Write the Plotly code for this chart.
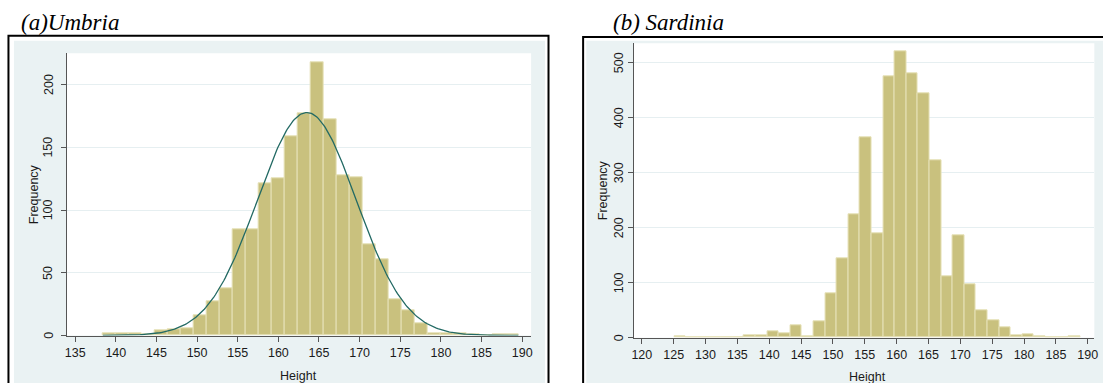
import numpy as np
import plotly.graph_objects as go

W, H = 1103, 383

# ---------------- data ----------------
umbria_bin_start = 138.4
umbria_bin_width = 1.598
umbria_freq = [2, 2, 2, 1, 4, 5, 6, 16, 27, 38, 85, 85, 121, 125, 159, 177,
               218, 172, 128, 126, 73, 61, 29, 20, 10, 2, 2, 2, 1, 0, 1, 1]
umbria_normal_mean = 163.5
umbria_normal_sd = 6.1

sardinia_bin_start = 125.1
sardinia_bin_width = 1.821
sardinia_freq = [2, 0, 1, 1, 1, 0, 5, 5, 11, 8, 22, 2, 29, 80, 144, 224, 364,
                 189, 475, 521, 481, 444, 323, 111, 186, 97, 50, 31, 18, 5, 7,
                 3, 1, 1, 3]

umbria_xticks = list(range(135, 191, 5))
umbria_yticks = [0, 50, 100, 150, 200]
sardinia_xticks = list(range(120, 191, 5))
sardinia_yticks = [0, 100, 200, 300, 400, 500]

titles = ["<i>(a)Umbria</i>", "<i>(b) Sardinia</i>"]

# ---------------- helpers ----------------
def fx(x):
    return x / W


def fy(y):
    return 1 - y / H


BAR_FILL = "#C9C17E"
BAR_LINE = "#E6E1B8"
CURVE = "#236A64"
BG_BLUE = "#EAF2F3"
GRID = "#E6EFF1"
TXT = "#1a1a1a"
TICKFONT = dict(family="Liberation Sans, Arial", size=12.5, color=TXT)

fig = go.Figure()

# Umbria histogram
u_edges = umbria_bin_start + umbria_bin_width * np.arange(len(umbria_freq) + 1)
u_centers = (u_edges[:-1] + u_edges[1:]) / 2
fig.add_trace(go.Bar(x=u_centers, y=umbria_freq, width=umbria_bin_width,
                     marker=dict(color=BAR_FILL, line=dict(color=BAR_LINE, width=1)),
                     xaxis="x", yaxis="y", showlegend=False))

# normal density overlay (scaled to frequency)
n_u = sum(umbria_freq)
xs = np.linspace(u_edges[0], u_edges[-1], 300)
ys = n_u * umbria_bin_width / (umbria_normal_sd * np.sqrt(2 * np.pi)) * \
    np.exp(-0.5 * ((xs - umbria_normal_mean) / umbria_normal_sd) ** 2)
fig.add_trace(go.Scatter(x=xs, y=ys, mode="lines",
                         line=dict(color=CURVE, width=1.3),
                         xaxis="x", yaxis="y", showlegend=False))

# Sardinia histogram
s_edges = sardinia_bin_start + sardinia_bin_width * np.arange(len(sardinia_freq) + 1)
s_centers = (s_edges[:-1] + s_edges[1:]) / 2
fig.add_trace(go.Bar(x=s_centers, y=sardinia_freq, width=sardinia_bin_width,
                     marker=dict(color=BAR_FILL, line=dict(color=BAR_LINE, width=1)),
                     xaxis="x2", yaxis="y2", showlegend=False))

# ---------------- panel geometry (px) ----------------
L = dict(x0=65, x1=532, y0=53.3, y1=335.5)
R = dict(x0=635, x1=1098.3, y0=43.3, y1=337.7)

axis_common = dict(showline=True, linecolor="#555", linewidth=1,
                   ticks="outside", ticklen=5, tickwidth=1, tickcolor="#555",
                   tickfont=TICKFONT, zeroline=False, fixedrange=True)

fig.update_layout(
    width=W, height=H, margin=dict(l=0, r=0, t=0, b=0),
    paper_bgcolor="white", plot_bgcolor="rgba(0,0,0,0)",
    bargap=0, showlegend=False,
    xaxis=dict(domain=[fx(L["x0"]), fx(L["x1"])], range=[133.95, 191.1],
               tickvals=umbria_xticks, showgrid=False, anchor="y", **axis_common),
    yaxis=dict(domain=[fy(L["y1"]), fy(L["y0"])], range=[0, 225],
               tickvals=umbria_yticks, showticklabels=False, showgrid=True,
               gridcolor=GRID, gridwidth=1, anchor="x", **axis_common),
    xaxis2=dict(domain=[fx(R["x0"]), fx(R["x1"])], range=[118.7, 191.03],
                tickvals=sardinia_xticks, showgrid=False, anchor="y2", **axis_common),
    yaxis2=dict(domain=[fy(R["y1"]), fy(R["y0"])], range=[0, 535],
                tickvals=sardinia_yticks, showticklabels=False, showgrid=True,
                gridcolor=GRID, gridwidth=1, anchor="x2", **axis_common),
)

shapes = []
# light blue graph regions
shapes.append(dict(type="rect", xref="paper", yref="paper", layer="below",
                   x0=fx(12), x1=fx(546), y0=fy(40.7), y1=fy(400),
                   fillcolor=BG_BLUE, line=dict(width=0)))
shapes.append(dict(type="rect", xref="paper", yref="paper", layer="below",
                   x0=fx(587.5), x1=fx(1120), y0=fy(40.7), y1=fy(400),
                   fillcolor=BG_BLUE, line=dict(width=0)))
# white plot regions
for P in (L, R):
    shapes.append(dict(type="rect", xref="paper", yref="paper", layer="below",
                       x0=fx(P["x0"]), x1=fx(P["x1"]), y0=fy(P["y1"]), y1=fy(P["y0"]),
                       fillcolor="white", line=dict(width=0)))
# black frames
shapes.append(dict(type="rect", xref="paper", yref="paper", layer="above",
                   x0=fx(6.5), x1=fx(549.5), y0=fy(35.7), y1=fy(410),
                   fillcolor="rgba(0,0,0,0)", line=dict(color="black", width=2)))
shapes.append(dict(type="rect", xref="paper", yref="paper", layer="above",
                   x0=fx(584.3), x1=fx(1130), y0=fy(37), y1=fy(410),
                   fillcolor="rgba(0,0,0,0)", line=dict(color="black", width=2)))
fig.update_layout(shapes=shapes)

ann = []
title_font = dict(family="Liberation Serif, Times New Roman", size=23, color="black")
ann.append(dict(text=titles[0], x=fx(17), y=fy(23), xref="paper", yref="paper",
                xanchor="left", yanchor="middle", showarrow=False, font=title_font))
ann.append(dict(text=titles[1], x=fx(612), y=fy(23), xref="paper", yref="paper",
                xanchor="left", yanchor="middle", showarrow=False, font=title_font))

# rotated y tick labels (placed on the axis scale)
for v in umbria_yticks:
    ann.append(dict(text=str(v), textangle=-90, x=fx(46.5), y=v, xref="paper", yref="y",
                    xanchor="center", yanchor="middle", showarrow=False, font=TICKFONT))
for v in sardinia_yticks:
    ann.append(dict(text=str(v), textangle=-90, x=fx(620), y=v, xref="paper", yref="y2",
                    xanchor="center", yanchor="middle", showarrow=False, font=TICKFONT))

axt_font = dict(family="Liberation Sans, Arial", size=12.5, color=TXT)
ann.append(dict(text="Frequency", textangle=-90, x=fx(33), y=fy((L["y0"] + L["y1"]) / 2),
                xref="paper", yref="paper", xanchor="center", yanchor="middle",
                showarrow=False, font=axt_font))
ann.append(dict(text="Height", x=fx((L["x0"] + L["x1"]) / 2), y=fy(376),
                xref="paper", yref="paper", xanchor="center", yanchor="middle",
                showarrow=False, font=axt_font))
ann.append(dict(text="Frequency", textangle=-90, x=fx(604), y=fy((R["y0"] + R["y1"]) / 2),
                xref="paper", yref="paper", xanchor="center", yanchor="middle",
                showarrow=False, font=axt_font))
ann.append(dict(text="Height", x=fx(870), y=fy(377),
                xref="paper", yref="paper", xanchor="center", yanchor="middle",
                showarrow=False, font=axt_font))
fig.update_layout(annotations=ann)

fig.write_html("out.html", config={"displayModeBar": False},
               post_script="document.body.style.margin='0';document.body.style.overflow='hidden';")
